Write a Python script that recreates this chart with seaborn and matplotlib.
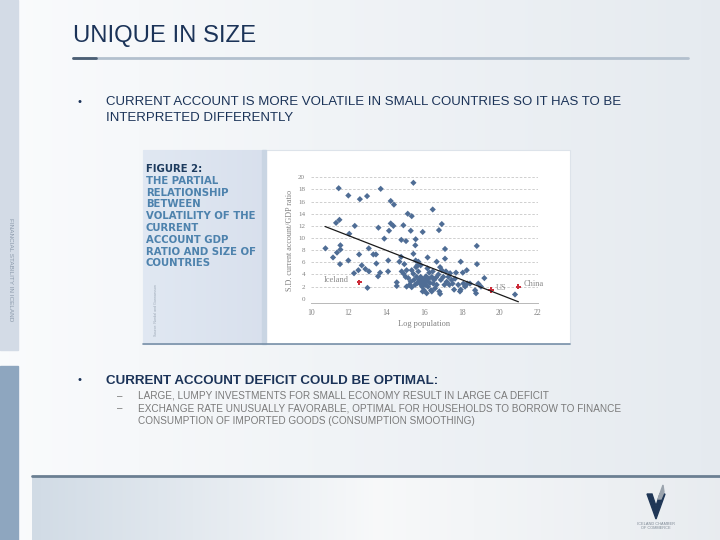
import numpy as np
import pandas as pd
import matplotlib
matplotlib.use("Agg")
import matplotlib.pyplot as plt
import seaborn as sns
from matplotlib.patches import Rectangle, Polygon

# ---- data ----
log_pop = [10.78, 11.18, 11.34, 11.39, 11.48, 11.52, 11.57, 11.57, 11.55, 11.99,
           12.04, 11.99, 12.33, 12.29, 12.52, 12.56, 12.60, 12.70, 12.89, 12.98,
           13.07, 13.08, 13.00, 13.31, 13.45, 13.47, 13.58, 13.56, 13.67, 13.70,
           13.89, 14.10, 14.09, 14.14, 14.23, 14.23, 14.37, 14.40, 14.55, 14.55,
           14.69, 14.78, 14.79, 14.90, 14.95, 14.81, 15.04, 15.13, 15.34, 15.29,
           15.43, 15.43, 15.55, 15.53, 15.55, 15.92, 16.18, 16.45, 16.78, 16.93,
           16.66, 17.10, 17.10, 16.84, 17.93, 18.78, 18.79, 18.25, 18.04, 19.18,
           18.86, 18.69, 18.74, 19.00, 20.80,
           15.02, 15.07, 15.16, 15.23, 15.29, 15.34, 15.43, 15.46, 15.52, 15.57,
           15.60, 15.64, 15.69, 15.74, 15.78, 15.81, 15.87, 15.89, 15.92, 15.96,
           15.99, 16.03, 16.06, 16.10, 16.13, 16.17, 16.20, 16.24, 16.27, 16.31,
           16.36, 16.40, 16.45, 16.48, 16.52, 16.57, 16.63, 16.66, 16.75, 16.80,
           16.84, 16.88, 16.93, 17.01, 17.07, 17.15, 17.19, 17.28, 17.33, 17.37,
           17.45, 17.50, 17.58, 17.63, 17.68, 17.80, 17.89, 17.93, 18.07, 18.16,
           18.28, 18.42, 16.13, 16.40, 15.92, 15.34, 15.07, 14.92, 15.69, 15.64,
           15.81]
ca_sd = [8.3, 6.8, 12.5, 7.6, 18.2, 13.0, 8.8, 8.1, 5.7, 17.0,
         10.7, 6.3, 12.0, 4.2, 4.7, 7.3, 16.4, 5.5, 4.9, 16.9,
         8.3, 4.5, 1.8, 7.3, 7.3, 5.8, 11.7, 3.7, 4.3, 18.1,
         9.9, 6.3, 4.5, 11.2, 12.4, 16.1, 12.0, 15.5, 2.7, 2.1,
         6.1, 6.9, 9.7, 12.1, 5.7, 4.5, 9.5, 14.0, 13.6, 11.2,
         19.1, 7.4, 9.8, 8.8, 6.3, 11.0, 6.8, 14.7, 11.3, 12.3,
         6.1, 8.2, 6.6, 5.2, 6.1, 8.7, 5.7, 4.7, 4.3, 3.4,
         2.5, 1.4, 0.9, 2.0, 0.7,
         3.6, 2.0, 3.4, 2.3, 2.8, 4.7, 4.1, 3.1, 2.3, 5.2,
         3.6, 2.6, 4.5, 3.1, 2.5, 3.6, 2.8, 2.0, 3.3, 2.5,
         1.4, 3.1, 2.3, 3.7, 2.8, 5.0, 2.0, 3.3, 4.3, 2.6,
         1.4, 3.6, 4.5, 2.5, 3.1, 1.7, 3.5, 2.3, 4.0, 1.2,
         0.8, 3.1, 4.7, 3.6, 2.3, 4.5, 2.8, 3.6, 2.3, 4.2,
         3.1, 2.5, 1.5, 3.3, 4.3, 2.3, 1.2, 1.5, 2.5, 2.0,
         2.5, 2.5, 0.9, 1.2, 1.2, 1.9, 4.7, 4.1, 6.1, 5.5,
         5.5]
hl_names = ["Iceland", "US", "China"]
hl_x = [12.57, 19.52, 20.98]
hl_y = [2.7, 1.4, 2.0]
trend_x = [10.76, 20.98]
trend_y = [11.9, -0.5]
x_ticks = [10, 12, 14, 16, 18, 20, 22]
y_ticks = [0, 2, 4, 6, 8, 10, 12, 14, 16, 18, 20]

side_lines = ["FIGURE 2:", "THE PARTIAL", "RELATIONSHIP", "BETWEEN", "VOLATILITY OF THE",
              "CURRENT", "ACCOUNT GDP", "RATIO AND SIZE OF", "COUNTRIES"]
bullet1 = ["CURRENT ACCOUNT IS MORE VOLATILE IN SMALL COUNTRIES SO IT HAS TO BE",
           "INTERPRETED DIFFERENTLY"]
bullet2 = "CURRENT ACCOUNT DEFICIT COULD BE OPTIMAL:"
sub_items = [["LARGE, LUMPY INVESTMENTS FOR SMALL ECONOMY RESULT IN LARGE CA DEFICIT"],
             ["EXCHANGE RATE UNUSUALLY FAVORABLE, OPTIMAL FOR HOUSEHOLDS TO BORROW TO FINANCE",
              "CONSUMPTION OF IMPORTED GOODS (CONSUMPTION SMOOTHING)"]]

sns.set_theme(style="white")
plt.rcParams['font.family'] = ['Liberation Sans', 'DejaVu Sans']

W, H = 720, 540
fig = plt.figure(figsize=(7.2, 5.4), dpi=100)

# background slide, drawn in pixel coords (y down)
bg = fig.add_axes([0, 0, 1, 1])
bg.set_xlim(0, W)
bg.set_ylim(H, 0)
bg.axis("off")

xs = np.linspace(0, 1, 300)
c_left = np.array([0.98, 0.985, 0.99])
c_right = np.array([0.90, 0.92, 0.94])
row = c_left[None, :] * (1 - xs[:, None]) + c_right[None, :] * xs[:, None]
img = np.repeat(row[None, :, :], 2, axis=0)
bg.imshow(img, extent=[0, W, H, 0], aspect="auto", zorder=0)

# bottom band
bx = np.linspace(0, 1, 300)
band_l = np.array([0.82, 0.86, 0.90])
band_m = np.array([0.97, 0.975, 0.98])
band_r = np.array([0.91, 0.925, 0.94])
t = np.clip(bx / 0.5, 0, 1)
band = np.where(bx[:, None] < 0.5,
                band_l * (1 - t[:, None]) + band_m * t[:, None],
                band_m * (1 - (bx[:, None] - 0.5) / 0.5) + band_r * ((bx[:, None] - 0.5) / 0.5))
bg.imshow(np.repeat(band[None], 2, axis=0), extent=[32, W, H, 476], aspect="auto", zorder=1)
bg.plot([32, W], [476, 476], color="#6b7f92", lw=2, zorder=2)

# left strips
bg.add_patch(Rectangle((0, 0), 18, 350, color="#d3dbe6", zorder=2))
bg.add_patch(Rectangle((0, 366), 18, 174, color="#8ea6bf", zorder=2))
bg.text(10, 270, "FINANCIAL STABILITY IN ICELAND", rotation=-90, ha="center", va="center",
        fontsize=4.6, color="#8c9aab", zorder=3)

# title
bg.text(73, 42, "UNIQUE IN SIZE", fontsize=17.2, color="#1b3358", va="baseline", zorder=3)
bg.plot([73, 688], [58, 58], color="#b3c0ce", lw=2, zorder=3)
bg.plot([73, 96], [58, 58], color="#4c5f74", lw=2, zorder=4)

# bullet 1
bg.text(78, 105, "•", fontsize=8, color="#1b3358", zorder=3)
for i, line in enumerate(bullet1):
    bg.text(106, 105 + i * 16, line, fontsize=9.5, color="#1b3358", zorder=3)

# figure panel
bg.add_patch(Rectangle((143, 150), 427, 194, facecolor="white", edgecolor="#dde3ea", lw=0.8, zorder=2))
pg = np.linspace(0, 1, 100)
p_l = np.array([0.88, 0.91, 0.95])
p_r = np.array([0.85, 0.88, 0.93])
prow = p_l[None, :] * (1 - pg[:, None]) + p_r[None, :] * pg[:, None]
bg.imshow(np.repeat(prow[None], 2, axis=0), extent=[143, 262, 344, 150], aspect="auto", zorder=3)
bg.add_patch(Rectangle((262, 150), 4, 194, color="#c9d5e3", zorder=3))
bg.plot([143, 570], [344, 344], color="#7890a8", lw=1.2, zorder=4)
for i, line in enumerate(side_lines):
    col = "#1d3b5e" if i == 0 else "#4d82ad"
    bg.text(146, 172 + i * 11.8, line, fontsize=7.3, fontweight="bold", color=col,
            family=['DejaVu Sans'], zorder=4)
bg.text(156, 310, "Source: Nordal and Gunnarsson", rotation=90, ha="center", va="center",
        fontsize=2.6, color="#9aa6b4", zorder=4)

# bullet 2
bg.text(78, 383, "•", fontsize=8, color="#1b3358", zorder=3)
bg.text(106, 384, bullet2, fontsize=9.6, fontweight="bold", color="#1b3358", zorder=3)
yy = 399
for item in sub_items:
    bg.text(117, yy, "–", fontsize=7, color="#777777", zorder=3)
    for line in item:
        bg.text(138, yy, line, fontsize=7.2, color="#7a7a7a", zorder=3)
        yy += 12.5

# logo
bg.add_patch(Polygon([(647, 494), (656, 519), (665, 494), (660, 494), (656, 506), (652, 494)],
                     closed=True, color="#1f3656", zorder=3))
bg.add_patch(Polygon([(658, 499), (663, 485), (664, 492), (661, 499)], closed=True,
                     color="#9aa3ad", zorder=3))
bg.text(656, 526, "ICELAND CHAMBER\nOF COMMERCE", ha="center", va="center", fontsize=2.8,
        color="#7d8894", linespacing=1.1, zorder=3)

# ---- scatter chart ----
ax = fig.add_axes([310.7 / W, 1 - 303.3 / H, 227 / W, 126 / H])
df = pd.DataFrame({"log_pop": log_pop, "ca_sd": ca_sd})
hl = pd.DataFrame({"name": hl_names, "log_pop": hl_x, "ca_sd": hl_y})
sns.scatterplot(data=df, x="log_pop", y="ca_sd", marker="D", s=10, color="#4f6d95",
                edgecolor="none", ax=ax, zorder=3)
sns.scatterplot(data=hl, x="log_pop", y="ca_sd", marker="P", s=16, color="#cc2b38",
                edgecolor="none", ax=ax, zorder=4)
sns.lineplot(x=trend_x, y=trend_y, color="#1a1a1a", lw=0.9, ax=ax, zorder=5)
ax.set_xlim(10, 22)
ax.set_ylim(-0.75, 20)
ax.set_xticks(x_ticks)
ax.set_yticks(y_ticks)
ax.set_xticklabels([str(v) for v in x_ticks], fontsize=5.5, color="#808080", family="Liberation Serif")
ax.set_yticklabels([str(v) for v in y_ticks], fontsize=5, color="#808080", family="Liberation Serif")
ax.tick_params(axis="x", length=2, width=0.5, color="#b0b0b0", pad=2)
ax.tick_params(axis="y", length=0, pad=4)
for v in y_ticks[1:]:
    ax.axhline(v, color="#c8c8c8", lw=0.6, ls=(0, (3, 2)), zorder=1)
for s in ["top", "right", "left"]:
    ax.spines[s].set_visible(False)
ax.spines["bottom"].set_color("#b8b8b8")
ax.spines["bottom"].set_linewidth(0.7)
ax.set_facecolor("none")
ax.set_xlabel("Log population", fontsize=6, color="#808080", family="Liberation Serif", labelpad=2)
ax.set_ylabel("S.D. current account/GDP ratio", fontsize=5.8, color="#808080",
              family="Liberation Serif", labelpad=3)
offsets = {"Iceland": (-0.55, "right"), "US": (0.25, "left"), "China": (0.3, "left")}
for n, x, y in zip(hl_names, hl_x, hl_y):
    dx, ha = offsets[n]
    ax.text(x + dx, y + 0.4, n, fontsize=6, color="#8a8a8a", ha=ha, va="center",
            family="Liberation Serif")

fig.savefig("out.png", dpi=100)
